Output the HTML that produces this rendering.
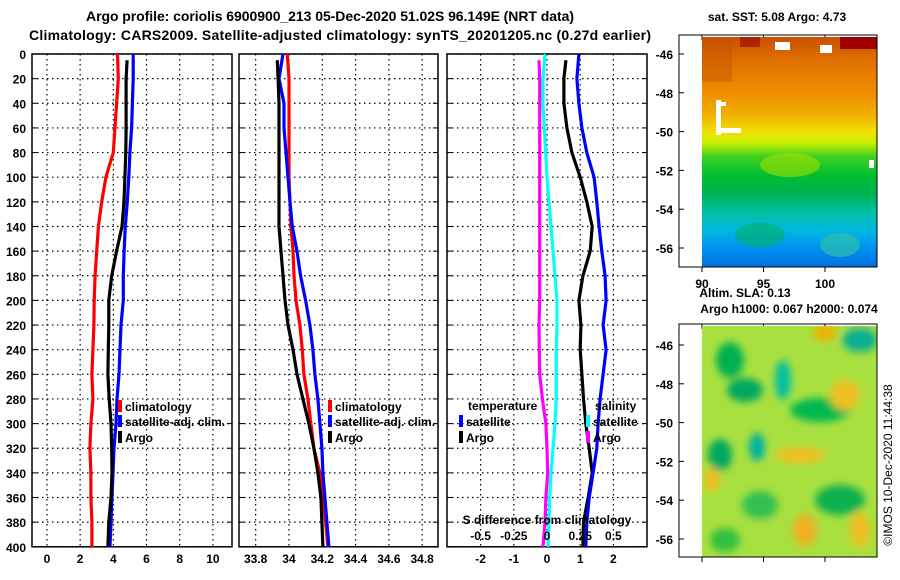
<!DOCTYPE html>
<html><head><meta charset="utf-8"><style>
html,body{margin:0;padding:0;background:#fff;}
svg{display:block;font-family:"Liberation Sans",sans-serif;font-weight:bold;}
</style></head><body>
<svg id="s" width="900" height="580" viewBox="0 0 900 580">
<defs>
<linearGradient id="sstg" x1="0" y1="0" x2="0" y2="1">
<stop offset="0" stop-color="#c85000"/><stop offset="0.1" stop-color="#e07000"/><stop offset="0.25" stop-color="#f09000"/>
<stop offset="0.34" stop-color="#f0b000"/><stop offset="0.41" stop-color="#f0e000"/><stop offset="0.46" stop-color="#c8f000"/>
<stop offset="0.52" stop-color="#40d020"/><stop offset="0.6" stop-color="#00c030"/><stop offset="0.68" stop-color="#00b050"/>
<stop offset="0.76" stop-color="#00c0a0"/><stop offset="0.84" stop-color="#00b8e0"/><stop offset="0.92" stop-color="#0090f0"/><stop offset="1" stop-color="#0070e0"/></linearGradient>
<filter id="bl"><feGaussianBlur stdDeviation="4"/></filter>
<clipPath id="c2"><rect x="702" y="326" width="175" height="231"/></clipPath>
</defs>
<text x="330" y="21" text-anchor="middle" font-size="14" textLength="488">Argo profile: coriolis 6900900_213 05-Dec-2020 51.02S 96.149E (NRT data)</text>
<text x="340" y="40" text-anchor="middle" font-size="14" textLength="622">Climatology: CARS2009. Satellite-adjusted climatology: synTS_20201205.nc (0.27d earlier)</text>
<g id="plots"></g>
<g>
<text x="777" y="21" text-anchor="middle" font-size="12">sat. SST: 5.08 Argo: 4.73</text>
<rect x="702" y="37" width="175" height="230" fill="url(#sstg)"/>
<rect x="702" y="37" width="30" height="45" fill="#c05000" opacity="0.4"/>
<rect x="840" y="37" width="37" height="12" fill="#a00000"/>
<rect x="740" y="37" width="20" height="10" fill="#a01000" opacity="0.7"/>
<rect x="775" y="42" width="15" height="8" fill="#fff"/><rect x="820" y="45" width="12" height="8" fill="#fff"/>
<rect x="716" y="100" width="5" height="35" fill="#fff"/><rect x="716" y="128" width="25" height="5" fill="#fff"/><rect x="716" y="102" width="10" height="4" fill="#fff"/>
<rect x="869" y="160" width="5" height="8" fill="#fff"/>
<ellipse cx="790" cy="165" rx="30" ry="12" fill="#a0e000" opacity="0.6"/>
<ellipse cx="760" cy="235" rx="25" ry="12" fill="#00b060" opacity="0.6"/>
<ellipse cx="840" cy="245" rx="20" ry="12" fill="#30c8a0" opacity="0.6"/>
<rect x="679" y="35" width="198" height="232" fill="none" stroke="#000"/>
</g>
<g>
<text x="745" y="297" text-anchor="middle" font-size="12">Altim. SLA: 0.13</text>
<text x="789" y="313" text-anchor="middle" font-size="12">Argo h1000: 0.067 h2000: 0.074</text>
<g clip-path="url(#c2)"><rect x="702" y="326" width="175" height="231" fill="#a8e040"/>
<g filter="url(#bl)">
<ellipse cx="730" cy="360" rx="14" ry="18" fill="#00b050"/><ellipse cx="745" cy="390" rx="18" ry="12" fill="#00a860"/>
<ellipse cx="783" cy="380" rx="8" ry="20" fill="#00c0a0"/><ellipse cx="860" cy="340" rx="18" ry="12" fill="#10b090"/>
<ellipse cx="720" cy="455" rx="12" ry="16" fill="#00a860"/><ellipse cx="757" cy="447" rx="8" ry="14" fill="#00b0a0"/>
<ellipse cx="820" cy="410" rx="30" ry="12" fill="#00b850"/><ellipse cx="840" cy="500" rx="25" ry="15" fill="#10b050"/>
<ellipse cx="760" cy="505" rx="18" ry="14" fill="#30c050"/><ellipse cx="800" cy="455" rx="25" ry="8" fill="#f0c020"/>
<ellipse cx="825" cy="333" rx="12" ry="8" fill="#f0b000"/><ellipse cx="805" cy="530" rx="12" ry="16" fill="#f0b020"/>
<ellipse cx="845" cy="395" rx="15" ry="15" fill="#f0c020"/><ellipse cx="712" cy="480" rx="8" ry="12" fill="#f0c020"/>
<ellipse cx="725" cy="540" rx="15" ry="12" fill="#30c040"/><ellipse cx="860" cy="530" rx="10" ry="18" fill="#f0c020"/>
</g></g>
<rect x="679" y="324" width="198" height="233" fill="none" stroke="#000"/>
</g>
<text transform="translate(892,465) rotate(-90)" text-anchor="middle" font-size="12" font-weight="normal">©IMOS 10-Dec-2020 11:44:38</text>
</svg>
<script>
const depths=[0,20,40,60,80,100,120,140,160,180,200,220,240,260,280,300,320,340,360,380,400];
const tClim=[4.25,4.3,4.2,4.1,4.0,3.55,3.3,3.1,3.0,2.9,2.85,2.83,2.77,2.71,2.77,2.65,2.59,2.65,2.65,2.71,2.71];
const tSat=[5.2,5.2,5.15,5.1,5.0,4.93,4.84,4.72,4.65,4.6,4.6,4.46,4.4,4.34,4.22,4.16,4.04,3.98,3.92,3.86,3.8];
const tArgo=[4.83,4.77,4.77,4.77,4.75,4.7,4.64,4.52,4.2,3.9,3.73,3.73,3.7,3.67,3.75,3.86,3.9,3.92,3.86,3.73,3.67];
const sClim=[33.99,34.0,34.0,34.0,34.0,34.0,34.006,34.012,34.024,34.03,34.042,34.066,34.08,34.09,34.114,34.132,34.15,34.186,34.204,34.22,34.234];
const sSat=[33.964,33.94,33.97,33.97,33.982,33.994,34.006,34.02,34.048,34.07,34.1,34.126,34.144,34.156,34.174,34.186,34.198,34.204,34.216,34.228,34.24];
const sArgo=[33.93,33.935,33.94,33.94,33.94,33.94,33.94,33.94,33.952,33.964,33.976,33.994,34.024,34.048,34.084,34.12,34.15,34.174,34.192,34.198,34.204];
const dTSat=[0.96,0.9,0.96,1.05,1.2,1.42,1.5,1.57,1.65,1.75,1.78,1.69,1.78,1.69,1.6,1.54,1.5,1.39,1.27,1.2,1.17];
const dTArgo=[0.57,0.51,0.51,0.6,0.75,1.0,1.2,1.36,1.3,1.08,0.96,1.02,1.0,1.05,1.1,1.17,1.27,1.36,1.24,1.1,1.08];
const dSSat=[-0.015,-0.03,-0.03,-0.02,-0.01,0,0.015,0.03,0.045,0.06,0.075,0.075,0.07,0.07,0.07,0.06,0.045,0.03,0.02,0.015,0.008];
const dSArgo=[-0.06,-0.055,-0.055,-0.055,-0.055,-0.055,-0.055,-0.055,-0.055,-0.055,-0.055,-0.06,-0.058,-0.055,-0.035,-0.008,0.0,0.005,-0.008,-0.015,-0.03];
const depthTicks=[0,20,40,60,80,100,120,140,160,180,200,220,240,260,280,300,320,340,360,380,400];
const tTicks=[0,2,4,6,8,10];
const sTicks=[33.8,34,34.2,34.4,34.6,34.8];
const dTicks=[-2,-1,0,1,2];
const dSTicks=[-0.5,-0.25,0,0.25,0.5];
const latTicks=[-46,-48,-50,-52,-54,-56];
const lonTicks=[90,95,100];

const NS="http://www.w3.org/2000/svg";
const g=document.getElementById('plots');
function mk(tag,attrs,parent,txt){const e=document.createElementNS(NS,tag);for(const k in attrs)e.setAttribute(k,attrs[k]);if(txt!==undefined)e.textContent=txt;(parent||g).appendChild(e);return e;}
const Y=d=>54+d*1.232;
const panels=[{x0:32,x1:232,v0:-0.9,v1:11.15,ticks:tTicks,name:'temperature-panel'},
{x0:239,x1:438,v0:33.7,v1:34.895,ticks:sTicks,name:'salinity-panel'},
{x0:447,x1:647,v0:-3.0,v1:3.0241,ticks:dTicks,name:'difference-panel'}];
panels.forEach(p=>{p.X=v=>p.x0+(v-p.v0)/(p.v1-p.v0)*(p.x1-p.x0);});
panels[2].X=v=>547+v*33.2;
panels.forEach((p,i)=>{
 const pg=mk('g',{});
 
 
 depthTicks.forEach(d=>{const l=mk('line',{x1:p.x0,x2:p.x1,y1:Y(d),y2:Y(d),stroke:'#000','stroke-dasharray':'1.5,3.5','stroke-width':1.2},pg);
  
  mk('line',{x1:p.x0,x2:p.x0+5,y1:Y(d),y2:Y(d),stroke:'#000'},pg);mk('line',{x1:p.x1-5,x2:p.x1,y1:Y(d),y2:Y(d),stroke:'#000'},pg);});
 p.ticks.forEach(t=>{const x=p.X(t);const l=mk('line',{x1:x,x2:x,y1:Y(0),y2:Y(400),stroke:'#000','stroke-dasharray':'1.5,3.5','stroke-width':1.2},pg);
  
  const tx=mk('text',{x:x,y:563,'text-anchor':'middle','font-size':12},pg,String(t));
  });
 const fr=mk('rect',{x:p.x0,y:Y(0),width:p.x1-p.x0,height:Y(400)-Y(0),fill:'none',stroke:'#000','stroke-width':1.5},pg);
 
});
depthTicks.forEach(d=>{const t=mk('text',{x:26,y:Y(d)+5,'text-anchor':'end','font-size':12},g,String(d));
 });
function line(p,vals,col,name,start,scale){
 const pts=vals.map((v,i)=>p.X(v*(scale||1)).toFixed(1)+','+Y(i===0?(start||0):depths[i]).toFixed(1)).join(' ');
 const l=mk('polyline',{points:pts,fill:'none',stroke:col,'stroke-width':3.2});
 }
line(panels[0],tClim,'#f00','temp-climatology-line');
line(panels[0],tSat,'#00f','temp-satellite-adj-line');
line(panels[0],tArgo,'#000','temp-argo-line',5);
line(panels[1],sClim,'#f00','sal-climatology-line');
line(panels[1],sSat,'#00f','sal-satellite-adj-line');
line(panels[1],sArgo,'#000','sal-argo-line',5);
line(panels[2],dSArgo,'#f0f','sdiff-argo-line',5,4);
line(panels[2],dSSat,'#0ff','sdiff-satellite-line',0,4);
line(panels[2],dTArgo,'#000','tdiff-argo-line',5);
line(panels[2],dTSat,'#00f','tdiff-satellite-line');
function leg(x,y,col,txt,name){const r=mk('rect',{x:x-2,y:y-6,width:4,height:12,fill:col});
 
 const t=mk('text',{x:x+5,y:y+5,'font-size':12},g,txt);}
leg(120,406,'#f00','climatology','legend-climatology');leg(120,421,'#00f','satellite-adj. clim.','legend-satellite-adj');leg(120,437,'#000','Argo','legend-argo');
leg(330,406,'#f00','climatology','legend-climatology-2');leg(330,421,'#00f','satellite-adj. clim.','legend-satellite-adj-2');leg(330,437,'#000','Argo','legend-argo-2');
let t=mk('text',{x:468,y:410,'font-size':12},g,'temperature');
t=mk('text',{x:595,y:410,'font-size':12},g,'salinity');
leg(461,421,'#00f','satellite','legend-temp-satellite');leg(461,437,'#000','Argo','legend-temp-argo');
leg(588,421,'#0ff','satellite','legend-sal-satellite');leg(588,437,'#f0f','Argo','legend-sal-argo');
t=mk('text',{x:547,y:524,'text-anchor':'middle','font-size':12},g,'S difference from climatology');
dSTicks.forEach(v=>{const x=547+v*4*33.2;const tt=mk('text',{x:x,y:540,'text-anchor':'middle','font-size':12},g,String(v));
 });
const latY1=l=>54+(-46-l)*19.4, latY2=l=>345+(-46-l)*19.4, lonX=l=>702+(l-90)*12.3;
latTicks.forEach(l=>{[[latY1,37,267],[latY2,326,557]].forEach(([f,a,b])=>{const y=f(l);
 const tt=mk('text',{x:673,y:y+5,'text-anchor':'end','font-size':12},g,String(l));
 
 mk('line',{x1:679,x2:684,y1:y,y2:y,stroke:'#000'});mk('line',{x1:872,x2:877,y1:y,y2:y,stroke:'#000'});});});
lonTicks.forEach(l=>{const x=lonX(l);const tt=mk('text',{x:x,y:288,'text-anchor':'middle','font-size':12},g,String(l));
 
 mk('line',{x1:x,x2:x,y1:35,y2:40,stroke:'#000'});mk('line',{x1:x,x2:x,y1:267,y2:272,stroke:'#000'});
 mk('line',{x1:x,x2:x,y1:324,y2:329,stroke:'#000'});mk('line',{x1:x,x2:x,y1:557,y2:562,stroke:'#000'});});
</script>
</body></html>
